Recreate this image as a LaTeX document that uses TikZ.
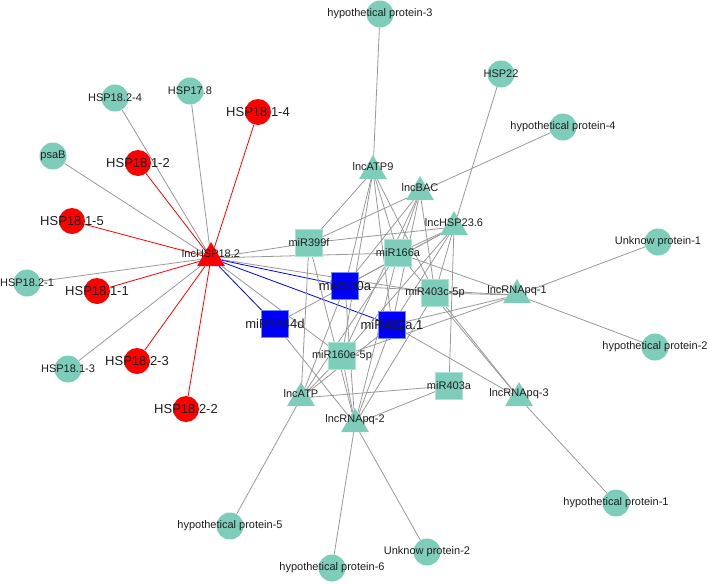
\documentclass[tikz,border=0pt]{standalone}
\usepackage{fontspec}
\setmainfont{Liberation Sans}
\usetikzlibrary{shapes.geometric,backgrounds}
\definecolor{nodeteal}{RGB}{126,205,187}
\definecolor{rimteal}{RGB}{170,228,214}
\definecolor{edgegray}{RGB}{153,153,153}
\definecolor{labtext}{RGB}{30,30,30}
\definecolor{hotred}{RGB}{255,0,0}
\definecolor{deepblue}{RGB}{0,0,250}
\definecolor{rimblue}{RGB}{110,140,255}

\begin{document}
\begin{tikzpicture}[x=1pt,y=-1pt]
    \tikzset{every label/.style={text=labtext, font=\fontsize{11}{11}\selectfont, inner sep=0pt}
    , gene/.style={circle, fill=nodeteal, minimum size=27pt, inner sep=0pt, label={center:#1}}
    , hsp/.style={circle, fill=hotred, minimum size=26pt, inner sep=0pt
        , label={[font=\fontsize{13}{13}\selectfont]center:#1}}
    , lnc/.style={regular polygon, regular polygon sides=3, fill=nodeteal
        , minimum size=32pt, inner sep=0pt, label={[yshift=4pt]center:#1}}
    , mir/.style={rectangle, fill=nodeteal, draw=rimteal, line width=0.6pt
        , minimum size=27pt, inner sep=0pt, label={center:#1}}
    , hubmir/.style={rectangle, fill=deepblue, draw=rimblue, line width=0.6pt
        , minimum size=27pt, inner sep=0pt
        , label={[font=\fontsize{13}{13}\selectfont]center:#1}}
    , link/.style={draw=edgegray, line width=0.8pt}
    }
\useasboundingbox (0,0) rectangle (709,584);

% outer genes
\node [gene={hypothetical protein-3}] (hp3) at (380,14) {};
\node [gene={HSP22}] (hsp22) at (501,74) {};
\node [gene={hypothetical protein-4}] (hp4) at (563,127) {};
\node [gene={Unknow protein-1}] (up1) at (658,242) {};
\node [gene={hypothetical protein-2}] (hp2) at (655,347) {};
\node [gene={hypothetical protein-1}] (hp1) at (616,503) {};
\node [gene={Unknow protein-2}] (up2) at (427,552) {};
\node [gene={hypothetical protein-6}] (hp6) at (332,568) {};
\node [gene={hypothetical protein-5}] (hp5) at (230,526) {};
\node [gene={HSP18.2-4}] (hsp182d) at (115,98) {};
\node [gene={HSP17.8}] (hsp178) at (190,91) {};
\node [gene={psaB}] (psab) at (53,156) {};
\node [gene={HSP18.2-1}] (hsp182a) at (27,283) {};
\node [gene={HSP18.1-3}] (hsp181c) at (68,369) {};

% red heat shock genes
\node [hsp={HSP18.1-4}] (hsp181d) at (258,112) {};
\node [hsp={HSP18.1-2}] (hsp181b) at (138,163) {};
\node [hsp={HSP18.1-5}] (hsp181e) at (72,221) {};
\node [hsp={HSP18.1-1}] (hsp181a) at (97,291) {};
\node [hsp={HSP18.2-3}] (hsp182c) at (137,361) {};
\node [hsp={HSP18.2-2}] (hsp182b) at (186,409) {};

% lncRNAs
\node [lnc={lncHSP18.2}, fill=hotred] (lhsp182) at (211,258) {};
\node [lnc={lncATP9}] (latp9) at (373,171) {};
\node [lnc={lncBAC}] (lbac) at (420,192) {};
\node [lnc={lncHSP23.6}] (lhsp236) at (454,227) {};
\node [lnc={lncRNApq-1}] (lpq1) at (517,295) {};
\node [lnc={lncRNApq-3}] (lpq3) at (519,398) {};
\node [lnc={lncRNApq-2}] (lpq2) at (355,424) {};
\node [lnc={lncATP}] (latp) at (301,398) {};

% miRNAs
\node [mir={miR399f}] (m399f) at (309,243) {};
\node [mir={miR166a}] (m166a) at (398,253) {};
\node [mir={miR403c-5p}] (m403c) at (435,293) {};
\node [mir={miR160e-5p}] (m160e) at (342,356) {};
\node [mir={miR403a}] (m403a) at (449,386) {};
\node [hubmir={miR530a}] (m530a) at (345,286) {};
\node [hubmir={miR482a.1}] (m482) at (392,325) {};
\node [hubmir={miR1444d}] (m1444d) at (275,324) {};

\begin{scope}[on background layer]
 \foreach \t in {hsp182d,hsp178,psab,hsp182a,hsp181c,m399f,m166a,m160e,m403c}
   \path[link] (lhsp182) -- (\t);
 \foreach \t in {hsp181d,hsp181b,hsp181e,hsp181a,hsp182c,hsp182b}
   \path[link, draw=hotred] (lhsp182) -- (\t);
 \foreach \t in {m530a,m482,m1444d}
   \path[link, draw=deepblue] (lhsp182) -- (\t);
 \foreach \t in {hp3,m399f,m166a,m530a,m482,m403c,m160e}
   \path[link] (latp9) -- (\t);
 \foreach \t in {hp4,m399f,m166a,m530a,m482,m403c,m160e}
   \path[link] (lbac) -- (\t);
 \foreach \t in {hsp22,m399f,m166a,m530a,m482,m403a,m160e,m403c,m1444d}
   \path[link] (lhsp236) -- (\t);
 \foreach \t in {up1,hp2,m166a,m530a,m403c,m482,m160e}
   \path[link] (lpq1) -- (\t);
 \foreach \t in {hp1,m482,m403c,m166a}
   \path[link] (lpq3) -- (\t);
 \foreach \t in {up2,hp6,m160e,m403a,m530a,m166a,m482,m399f,m1444d,m403c}
   \path[link] (lpq2) -- (\t);
 \foreach \t in {hp5,m160e,m403a,m530a,m166a,m399f,m482}
   \path[link] (latp) -- (\t);
\end{scope}
\end{tikzpicture}
\end{document}
